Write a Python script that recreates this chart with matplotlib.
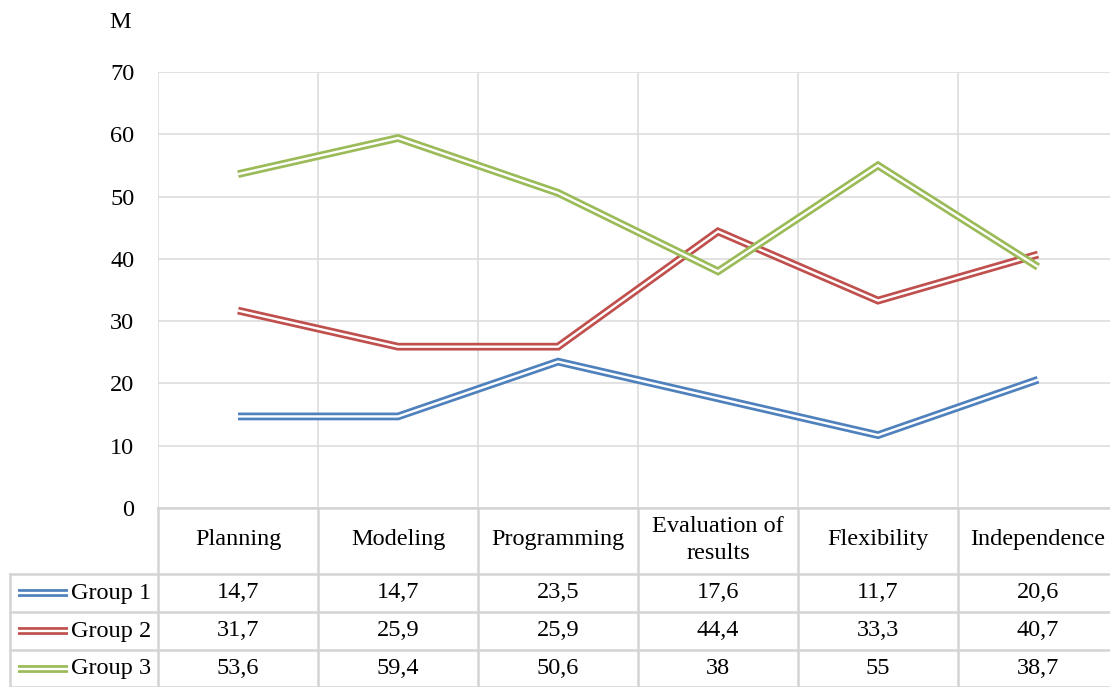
import matplotlib
matplotlib.use("Agg")
import matplotlib.pyplot as plt
from matplotlib.lines import Line2D

categories = ["Planning", "Modeling", "Programming", "Evaluation of\nresults", "Flexibility", "Independence"]
group_names = ["Group 1", "Group 2", "Group 3"]
group1 = [14.7, 14.7, 23.5, 17.6, 11.7, 20.6]
group2 = [31.7, 25.9, 25.9, 44.4, 33.3, 40.7]
group3 = [53.6, 59.4, 50.6, 38, 55, 38.7]
series = [group1, group2, group3]
colors = ["#4F81BD", "#C0504D", "#9BBB59"]
yticks = [0, 10, 20, 30, 40, 50, 60, 70]

plt.rcParams['font.family'] = ['Liberation Serif', 'DejaVu Serif']
FS = 17.5
W, H = 1110, 687
fig = plt.figure(figsize=(W / 100, H / 100), dpi=100)

def fx(px):
    return px / W

def fy(py):
    return 1 - py / H

x0, x1 = 158, 1118
ytop, ybot = 72, 508
ax = fig.add_axes([fx(x0), fy(ybot), fx(x1) - fx(x0), fy(ytop) - fy(ybot)])
ax.set_xlim(-0.5, len(categories) - 0.5)
ax.set_ylim(0, 70)
ax.set_yticks(yticks)
ax.set_yticklabels([str(t) for t in yticks], fontsize=FS)
ax.tick_params(axis='y', length=0, pad=17)
ax.set_xticks([])
for s in ax.spines.values():
    s.set_visible(False)
grid_c = "#DDDDDD"
for t in yticks:
    ax.axhline(t, color=grid_c, lw=1.2, zorder=0)
for i in range(len(categories) + 1):
    ax.axvline(i - 0.5, color=grid_c, lw=1.2, zorder=0)

xs = list(range(len(categories)))
LW_OUT, LW_IN = 5.6, 1.7
for vals, c in zip(series, colors):
    ax.plot(xs, vals, color=c, lw=LW_OUT, solid_joinstyle='miter', solid_capstyle='butt', zorder=3)
    ax.plot(xs, vals, color='white', lw=LW_IN, solid_joinstyle='miter', solid_capstyle='butt', zorder=3)

fig.text(fx(120), fy(22), "M", fontsize=FS, ha='center', va='center')

# data table
tc = "#D4D4D4"
row_lines = [508, 574, 612, 650, 687]
col_x = [x0 + 160 * i for i in range(7)]
lab_left = 10

def hline(y, xa, xb):
    fig.add_artist(Line2D([fx(xa), fx(xb)], [fy(y), fy(y)], color=tc, lw=1.8, transform=fig.transFigure))

def vline(x, ya, yb):
    fig.add_artist(Line2D([fx(x), fx(x)], [fy(ya), fy(yb)], color=tc, lw=1.8, transform=fig.transFigure))

hline(row_lines[0], x0, x1)
for y in row_lines[1:]:
    hline(y, lab_left, x1)
for x in col_x:
    vline(x, ybot, H)
vline(lab_left, row_lines[1], H)

for i, cat in enumerate(categories):
    cx = (col_x[i] + col_x[i + 1]) / 2
    fig.text(fx(cx), fy(540), cat, fontsize=FS, ha='center', va='center', linespacing=1.4)

for r, (name, vals, c) in enumerate(zip(group_names, series, colors)):
    cy = (row_lines[r + 1] + row_lines[r + 2]) / 2
    fig.add_artist(Line2D([fx(18), fx(68)], [fy(cy), fy(cy)], color=c, lw=LW_OUT, solid_capstyle='butt', transform=fig.transFigure))
    fig.add_artist(Line2D([fx(18), fx(68)], [fy(cy), fy(cy)], color='white', lw=LW_IN, solid_capstyle='butt', transform=fig.transFigure))
    fig.text(fx(71), fy(cy), name, fontsize=FS, ha='left', va='center')
    for i, v in enumerate(vals):
        cx = (col_x[i] + col_x[i + 1]) / 2
        txt = ("%g" % v).replace(".", ",")
        fig.text(fx(cx), fy(cy), txt, fontsize=FS, ha='center', va='center')

fig.savefig("out.png", dpi=100, facecolor='white')
